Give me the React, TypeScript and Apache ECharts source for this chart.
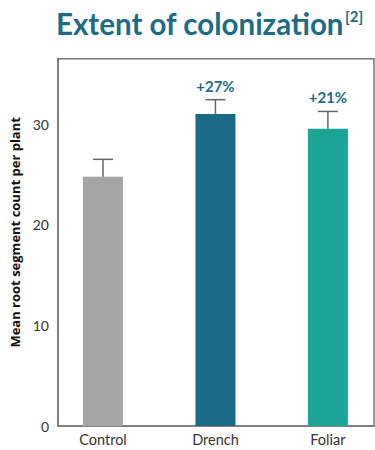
import React, { useEffect, useRef } from "react";
import * as echarts from "echarts";

const categories = ["Control", "Drench", "Foliar"];
const meanValues = [24.78, 31.0, 29.55];
const upperError = [26.5, 32.43, 31.26];
const changeLabels = ["", "+27%", "+21%"];
const barColors = ["#a4a6a5", "#1a6a85", "#1ca596"];
const yTicks = [0, 10, 20, 30];

export default function App() {
  const ref = useRef<HTMLDivElement>(null);
  useEffect(() => {
    if (!ref.current) return;
    const chart = echarts.init(ref.current, null, { renderer: "svg" });
    const font = "Lato, 'Noto Sans', sans-serif";
    chart.setOption({
      animation: false,
      title: {
        text: "{a|Extent of colonization}{b|[2]}",
        left: 51,
        top: 3,
        textStyle: {
          rich: {
            a: { fontSize: 29.5, fontWeight: "bold", color: "#1b6c85", fontFamily: font },
            b: { fontSize: 15, fontWeight: "bold", color: "#1b6c85", fontFamily: font, verticalAlign: "top", padding: [0, 0, 10, 1] },
          },
        },
      },
      grid: {
        left: 51,
        right: 1,
        top: 58.7,
        bottom: 24,
        show: true,
        borderColor: "#777",
        borderWidth: 1.5,
      },
      xAxis: {
        type: "value",
        min: -0.4,
        max: 2.41,
        splitLine: { show: false },
        axisTick: { show: false },
        axisLine: { show: true, onZero: false, lineStyle: { color: "#777", width: 1.5 } },
        axisLabel: {
          customValues: [0, 1, 2],
          formatter: (v: number) => categories[Math.round(v)],
          color: "#333",
          fontSize: 14.5,
          fontFamily: font,
          margin: 6,
        },
      },
      yAxis: {
        type: "value",
        min: 0,
        max: 36.5,
        splitLine: { show: false },
        axisTick: { show: false },
        axisLine: { show: true, onZero: false, lineStyle: { color: "#777", width: 1.5 } },
        axisLabel: {
          customValues: yTicks,
          color: "#333",
          fontSize: 14,
          fontFamily: font,
          margin: 9,
        },
        name: "Mean root segment count per plant",
        nameLocation: "middle",
        nameGap: 37,
        nameTextStyle: {
          fontSize: 13,
          fontWeight: "bold",
          color: "#111",
          fontFamily: "'Open Sans', 'Noto Sans', sans-serif",
          padding: [0, 0, 0, 20],
        },
      },
      series: [
        {
          type: "bar",
          barWidth: 40,
          data: meanValues.map((v, i) => ({ value: [i, v], itemStyle: { color: barColors[i] } })),
        },
        {
          type: "custom",
          data: meanValues.map((v, i) => [i, v, upperError[i]]),
          renderItem: (params: any, api: any) => {
            const i = api.value(0);
            const base = api.coord([i, api.value(1)]);
            const top = api.coord([i, api.value(2)]);
            const children: any[] = [
              { type: "line", shape: { x1: base[0], y1: base[1], x2: top[0], y2: top[1] }, style: { stroke: "#666", lineWidth: 1.5 } },
              { type: "line", shape: { x1: top[0] - 10, y1: top[1], x2: top[0] + 10, y2: top[1] }, style: { stroke: "#666", lineWidth: 1.5 } },
            ];
            const lbl = changeLabels[Math.round(i)];
            if (lbl) {
              children.push({
                type: "text",
                style: {
                  text: lbl,
                  x: top[0],
                  y: top[1] - 14,
                  align: "center",
                  verticalAlign: "middle",
                  fontSize: 15,
                  fontWeight: "bold",
                  fill: "#1b6c85",
                  fontFamily: font,
                },
              });
            }
            return { type: "group", children };
          },
          z: 5,
        },
      ],
    });
    return () => chart.dispose();
  }, []);
  return <div ref={ref} style={{ width: 375, height: 450, position: "absolute", left: 0, top: 0 }} />;
}
